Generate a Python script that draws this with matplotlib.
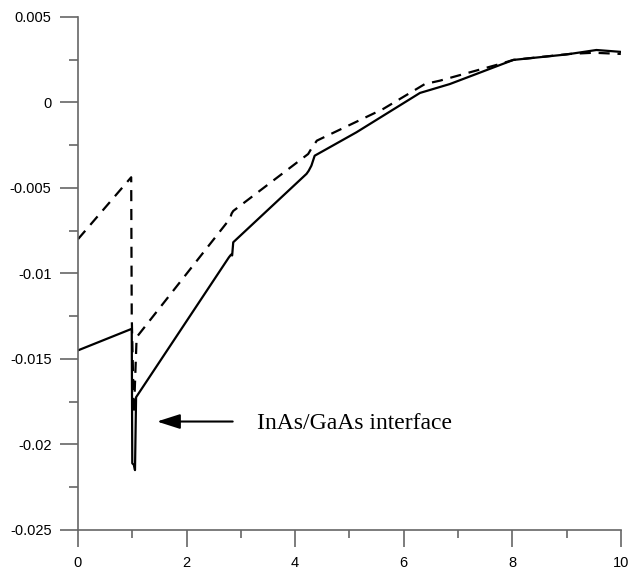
import matplotlib
matplotlib.use('Agg')
import matplotlib.pyplot as plt
from matplotlib.ticker import MultipleLocator

# solid curve
x_solid = [0.0, 0.99, 1.00, 1.03, 1.05, 1.07, 2.78, 2.82, 2.84, 2.86,
           4.21, 4.25, 4.30, 4.36, 5.13, 6.30, 6.85, 8.02, 9.0, 9.55, 9.8, 10.0]
y_solid = [-0.0145, -0.01324, -0.0211, -0.0212, -0.0215, -0.01724,
           -0.00906, -0.00890, -0.00895, -0.00818, -0.00418, -0.00400,
           -0.00370, -0.00312, -0.00175, 0.00055, 0.00107, 0.00248, 0.00280,
           0.00306, 0.00300, 0.00295]

# dashed curve
x_dash = [0.0, 0.98, 0.99, 1.03, 1.08, 2.80, 2.83, 2.86, 4.24,
          4.30, 4.40, 5.62, 6.39, 6.67, 7.77, 8.02, 9.06, 9.5, 10.0]
y_dash = [-0.0080, -0.00438, -0.0125, -0.0182, -0.01373,
          -0.00680, -0.00650, -0.00635, -0.00302, -0.00270, -0.00224,
          -0.00039, 0.00107, 0.00127, 0.00224, 0.00248, 0.00283, 0.00290, 0.00283]

plt.rcParams['font.family'] = ['Liberation Sans', 'DejaVu Sans']

fig = plt.figure(figsize=(6.29, 5.74), dpi=100)
ax = fig.add_axes([0.124, 0.0767, 0.863, 0.894])

ax.plot(x_solid, y_solid, color='black', linewidth=1.6)
ax.plot(x_dash, y_dash, color='black', linewidth=1.6, linestyle=(0, (5, 3.5)))

ax.set_xlim(0, 10)
ax.set_ylim(-0.025, 0.005)

for s in ['top', 'right']:
    ax.spines[s].set_visible(False)
for s in ['left', 'bottom']:
    ax.spines[s].set_color('#666666')
    ax.spines[s].set_linewidth(1.2)

ax.xaxis.set_major_locator(MultipleLocator(2))
ax.xaxis.set_minor_locator(MultipleLocator(1))
ax.yaxis.set_major_locator(MultipleLocator(0.005))
ax.yaxis.set_minor_locator(MultipleLocator(0.0025))
ax.set_yticks([0.005, 0, -0.005, -0.01, -0.015, -0.02, -0.025])
ax.set_yticklabels(['0.005', '0', '-0.005', '-0.01', '-0.015', '-0.02', '-0.025'])

ax.tick_params(axis='both', which='both', direction='out', color='#666666', width=1.2, labelsize=10.5)
ax.tick_params(axis='y', which='major', length=13, pad=6)
ax.tick_params(axis='y', which='minor', length=6.5)
ax.tick_params(axis='x', which='major', length=12, pad=7)
ax.tick_params(axis='x', which='minor', length=6)

ax.annotate('', xy=(1.455, -0.01866), xytext=(2.85, -0.01866),
            arrowprops=dict(arrowstyle='-|>,head_length=1.0,head_width=0.32',
                            mutation_scale=14, color='black', linewidth=1.5,
                            shrinkA=0, shrinkB=0))
ax.text(3.3, -0.0188, 'InAs/GaAs interface', fontsize=17, family='Liberation Serif',
        ha='left', va='center')

fig.savefig('out.png', dpi=100)
